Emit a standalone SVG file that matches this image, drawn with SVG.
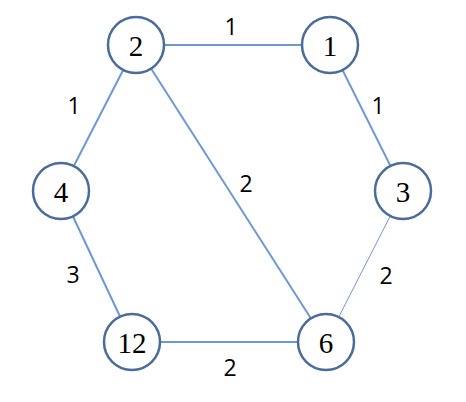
<svg xmlns="http://www.w3.org/2000/svg" width="466" height="402" viewBox="0 0 466 402">
<style>
.node circle{fill:#fff;stroke:#4a6c9b;stroke-width:2.5}
.node text{font-family:"Liberation Serif","DejaVu Serif",serif;font-size:29px;fill:#000;text-anchor:middle;dominant-baseline:central}
.edge{stroke:#6d98d6;stroke-width:2;fill:none}
.thin{stroke-width:1}
.lbl{font-family:"Open Sans","Liberation Sans",sans-serif;font-size:23px;fill:#000;text-anchor:middle;dominant-baseline:central}
</style>
<rect width="466" height="402" fill="#fff"/>
<g id="connectors">
<line class="edge" x1="136" y1="45" x2="330" y2="45"/>
<line class="edge" x1="136" y1="45" x2="61" y2="191"/>
<line class="edge" x1="136" y1="45" x2="326" y2="342"/>
<line class="edge" x1="330" y1="45" x2="403" y2="191"/>
<line class="edge" x1="61" y1="191" x2="132" y2="342"/>
<line class="edge thin" x1="403" y1="191" x2="326" y2="342"/>
<line class="edge" x1="132" y1="342" x2="326" y2="342"/>
<text class="lbl" x="231" y="26">1</text>
<text class="lbl" x="378" y="105">1</text>
<text class="lbl" x="74" y="105">1</text>
<text class="lbl" x="246" y="183">2</text>
<text class="lbl" x="73" y="274">3</text>
<text class="lbl" x="386" y="275">2</text>
<text class="lbl" x="230" y="367">2</text>
</g>
<g id="n2" class="node"><circle cx="136" cy="45" r="28"/><text x="136" y="46">2</text></g>
<g id="n1" class="node"><circle cx="330" cy="45" r="28"/><text x="330" y="46">1</text></g>
<g id="n4" class="node"><circle cx="61" cy="191" r="28"/><text x="61" y="192">4</text></g>
<g id="n3" class="node"><circle cx="403" cy="191" r="28"/><text x="403" y="192">3</text></g>
<g id="n12" class="node"><circle cx="132" cy="342" r="28"/><text x="132" y="343">12</text></g>
<g id="n6" class="node"><circle cx="326" cy="342" r="28"/><text x="326" y="343">6</text></g>
</svg>
